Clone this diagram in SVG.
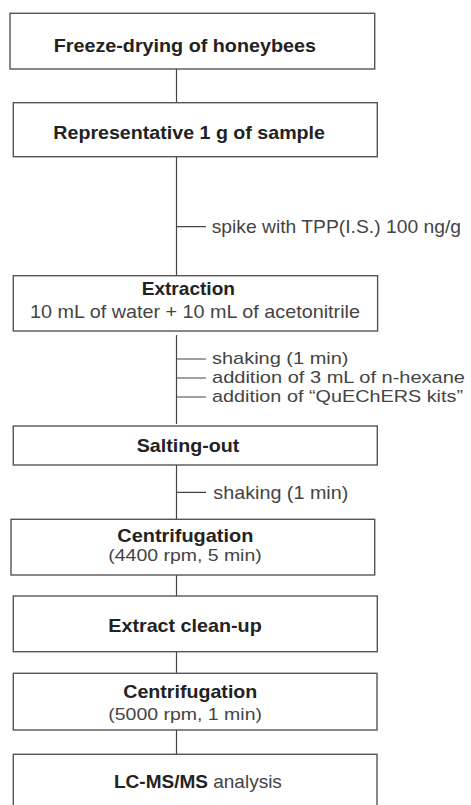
<svg xmlns="http://www.w3.org/2000/svg" width="471" height="805" viewBox="0 0 471 805">
<style>
.box{fill:#fff;stroke:#555;stroke-width:1.4}
.ln{stroke:#444;stroke-width:1.2;fill:none}
text{font-family:"Liberation Sans",Arial,sans-serif;font-size:19px}
.b{font-weight:bold;fill:#222}
.r{fill:#444}
.s{font-size:17px}
.m{font-size:17px}
</style>
<rect width="471" height="805" fill="#fff"/>
<g id="connectors">
<path class="ln" d="M176.5 69V102.7"/>
<path class="ln" d="M176.5 156.7V275.7M176.5 226.7H206"/>
<path class="ln" d="M176.5 335V424M176.5 359H206M176.5 378H206M176.5 397H206"/>
<path class="ln" d="M176.5 465V519.3M176.5 492.3H206"/>
<path class="ln" d="M176.5 575V596"/>
<path class="ln" d="M176.5 651.7V673.3"/>
<path class="ln" d="M176.5 730V754.3"/>
</g>
<g id="n1"><rect class="box" x="10" y="13.3" width="364.7" height="55.7"/>
<text class="b" x="53.7" y="52" textLength="262.3" lengthAdjust="spacingAndGlyphs">Freeze-drying of honeybees</text></g>
<g id="n2"><rect class="box" x="13.3" y="102.7" width="364" height="54"/>
<text class="b" x="53.3" y="139.3" textLength="271.7" lengthAdjust="spacingAndGlyphs">Representative 1 g of sample</text></g>
<g id="l1"><text class="r" x="211.7" y="233" textLength="249.3" lengthAdjust="spacingAndGlyphs">spike with TPP(I.S.) 100 ng/g</text></g>
<g id="n3"><rect class="box" x="13.3" y="275.7" width="364.3" height="55.3"/>
<text class="b" x="141.7" y="295.3" textLength="93.3" lengthAdjust="spacingAndGlyphs">Extraction</text>
<text class="r" x="30" y="318" textLength="330" lengthAdjust="spacingAndGlyphs">10 mL of water + 10 mL of acetonitrile</text></g>
<g id="l2"><text class="r s"><tspan x="212" y="363.5" textLength="136.5" lengthAdjust="spacingAndGlyphs">shaking (1 min)</tspan><tspan x="212" y="382.5" textLength="253" lengthAdjust="spacingAndGlyphs">addition of 3 mL of n-hexane</tspan><tspan x="212" y="401.5" textLength="251" lengthAdjust="spacingAndGlyphs">addition of “QuEChERS kits”</tspan></text></g>
<g id="n4"><rect class="box" x="13.3" y="426" width="364" height="39"/>
<text class="b" x="136.7" y="452.3" textLength="102.6" lengthAdjust="spacingAndGlyphs">Salting-out</text></g>
<g id="l3"><text class="r" x="213.3" y="499" textLength="135" lengthAdjust="spacingAndGlyphs">shaking (1 min)</text></g>
<g id="n5"><rect class="box" x="11" y="519.3" width="363.7" height="55.7"/>
<text class="b" x="117.3" y="541.7" textLength="136" lengthAdjust="spacingAndGlyphs">Centrifugation</text>
<text class="r m" x="108.3" y="560.5" textLength="153.4" lengthAdjust="spacingAndGlyphs">(4400 rpm, 5 min)</text></g>
<g id="n6"><rect class="box" x="13.3" y="596" width="364" height="55.7"/>
<text class="b" x="108.3" y="631.7" textLength="153.4" lengthAdjust="spacingAndGlyphs">Extract clean-up</text></g>
<g id="n7"><rect class="box" x="13.3" y="673.3" width="363.7" height="56.7"/>
<text class="b" x="123.3" y="698.3" textLength="134" lengthAdjust="spacingAndGlyphs">Centrifugation</text>
<text class="r m" x="108.3" y="719.5" textLength="153.7" lengthAdjust="spacingAndGlyphs">(5000 rpm, 1 min)</text></g>
<g id="n8"><rect class="box" x="13.3" y="754.3" width="363.7" height="70"/>
<text x="114" y="788.3"><tspan class="b">LC-MS/MS</tspan><tspan class="r"> analysis</tspan></text></g>
</svg>
